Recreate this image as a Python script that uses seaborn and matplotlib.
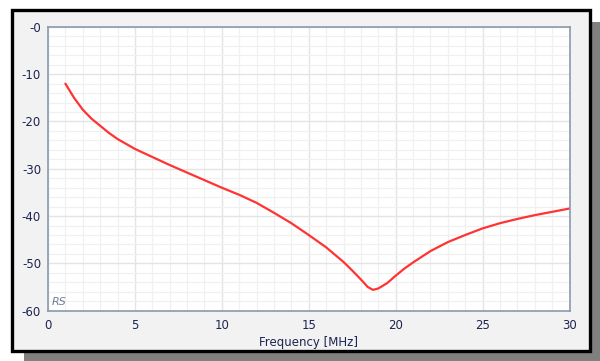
import numpy as np
import pandas as pd
import matplotlib
matplotlib.use("Agg")
import matplotlib.pyplot as plt
import seaborn as sns
from matplotlib.patches import Rectangle
from matplotlib.ticker import MultipleLocator

# Values
freq_mhz = [1, 1.5, 2, 2.5, 3, 3.5, 4, 5, 6, 7, 8, 9, 10, 11, 12, 13, 14,
            15, 16, 17, 17.5, 18, 18.4, 18.7, 19, 19.5, 20, 20.5, 21, 22,
            23, 24, 25, 26, 27, 28, 29, 30]
level_db = [-12.0, -15.0, -17.5, -19.4, -20.9, -22.4, -23.7, -25.8, -27.5,
            -29.2, -30.8, -32.4, -34.0, -35.5, -37.2, -39.3, -41.5, -44.0,
            -46.6, -49.7, -51.5, -53.4, -55.0, -55.6, -55.3, -54.2, -52.6,
            -51.1, -49.8, -47.4, -45.5, -44.0, -42.6, -41.5, -40.6, -39.8,
            -39.1, -38.4]

x_ticks = [0, 5, 10, 15, 20, 25, 30]
y_ticks = [0, -10, -20, -30, -40, -50, -60]
y_tick_labels = ["-0", "-10", "-20", "-30", "-40", "-50", "-60"]

sns.set_style("white")
plt.rcParams["font.family"] = ["DejaVu Sans"]

W, H = 600, 361
fig = plt.figure(figsize=(W / 100, H / 100), dpi=100, facecolor="white")

# drop shadow and framed panel behind the chart
fig.patches.append(Rectangle((24 / W, 0), 600 / W, (H - 22) / H,
                             transform=fig.transFigure, facecolor="#808080",
                             edgecolor="none", zorder=0))
fig.patches.append(Rectangle((11.5 / W, (H - 350.5) / H), 578 / W, 341 / H,
                             transform=fig.transFigure, facecolor="#f2f2f2",
                             edgecolor="black", linewidth=2.4, zorder=1))

ax = fig.add_axes([48 / W, 1 - 310.7 / H, 521.5 / W, 283.8 / H])
ax.set_zorder(2)
ax.set_facecolor("white")

df = pd.DataFrame({"freq": freq_mhz, "level": level_db})
sns.lineplot(data=df, x="freq", y="level", ax=ax, color="#ff3333",
             linewidth=1.6, solid_joinstyle="round")

ax.set_xlim(0, 30)
ax.set_ylim(-60, 0)
ax.set_xticks(x_ticks)
ax.set_yticks(y_ticks)
ax.set_yticklabels(y_tick_labels)
ax.xaxis.set_minor_locator(MultipleLocator(1))
ax.yaxis.set_minor_locator(MultipleLocator(2))
ax.grid(which="major", color="#e4e4e4", linewidth=1.0)
ax.grid(which="minor", color="#f0f0f0", linewidth=0.9)
ax.set_axisbelow(True)

label_color = "#1c2450"
ax.tick_params(which="both", length=0, labelsize=8.5, labelcolor=label_color)
ax.tick_params(axis="y", pad=5)
ax.tick_params(axis="x", pad=6)
ax.set_xlabel("Frequency [MHz]", fontsize=8.5, color=label_color, labelpad=3)
ax.set_ylabel("")

for s in ax.spines.values():
    s.set_color("#8a9aae")
    s.set_linewidth(1.2)

ax.text(0.008, 0.012, "RS", transform=ax.transAxes, fontsize=8,
        style="italic", color="#6d7f95", ha="left", va="bottom")

fig.savefig("out.png", dpi=100, facecolor="white")
